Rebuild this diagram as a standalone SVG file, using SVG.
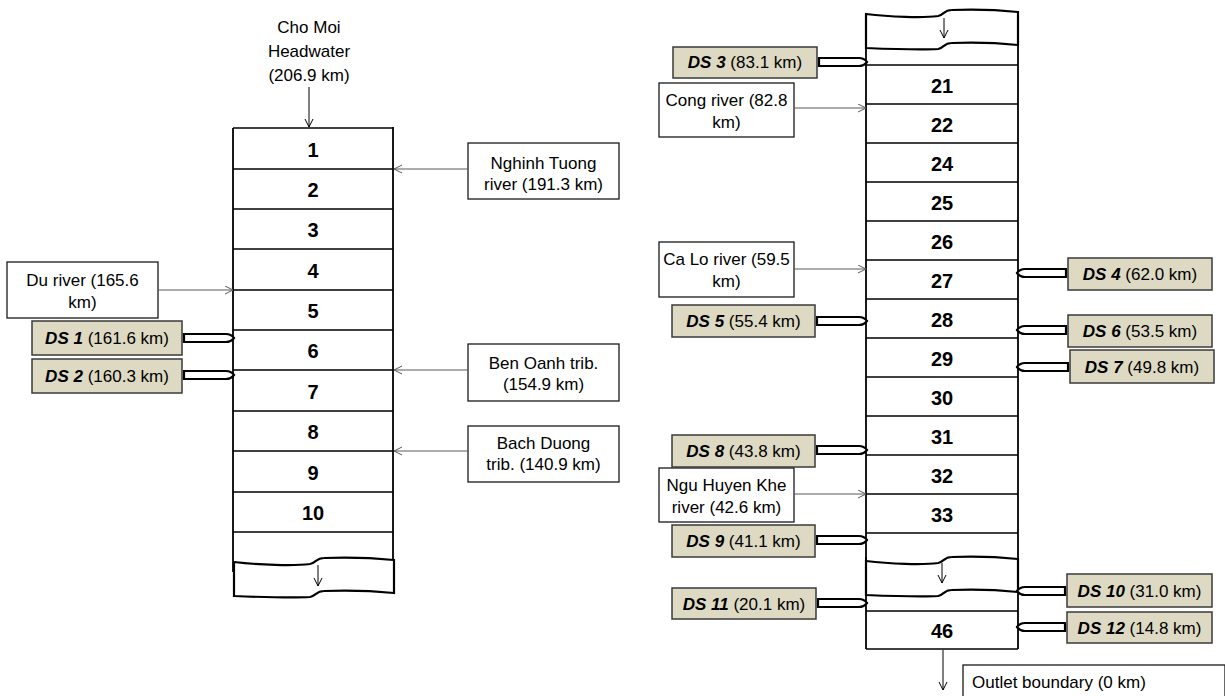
<svg xmlns="http://www.w3.org/2000/svg" width="1225" height="696" viewBox="0 0 1225 696">
<style>
text{font-family:"Liberation Sans",Arial,sans-serif;font-size:17px;fill:#000}
.c{text-anchor:middle}
.num{font-size:20px;font-weight:bold;text-anchor:middle}
.b{font-weight:bold;font-style:italic}
.box{fill:#fff;stroke:#1a1a1a;stroke-width:1.3}
.ds{fill:#ddd9c3;stroke:#3a3a3a;stroke-width:1.5}
.col{fill:none;stroke:#000;stroke-width:1.8}
.row{stroke:#000;stroke-width:1.5}
.trib{stroke:#5a5a5a;stroke-width:1.2;fill:none;marker-end:url(#arrG)}
.flow{stroke:#000;stroke-width:1;fill:none;marker-end:url(#arrK)}
.bar{fill:#fff;stroke:#000;stroke-width:2.2}
.tape{fill:#fff;stroke:#000;stroke-width:2.2}
</style>
<defs>
<marker id="arrG" markerUnits="userSpaceOnUse" markerWidth="10" markerHeight="10" refX="8" refY="4.5" orient="auto"><path d="M0,0.5 L8,4.5 L0,8.5" fill="none" stroke="#5a5a5a" stroke-width="1"/></marker>
<marker id="arrK" markerUnits="userSpaceOnUse" markerWidth="10" markerHeight="10" refX="8" refY="4.5" orient="auto"><path d="M0,0.5 L8,4.5 L0,8.5" fill="none" stroke="#000" stroke-width="1"/></marker>
<path id="tapeShape" vector-effect="non-scaling-stroke" d="M0,4 C25,7 60,8 76,6 C82,5 82,0 90,0 C115,-1 140,0 160,2 L160,35 C140,33 115,32 90,33 C82,33 82,38 76,39 C60,40 25,39 0,38 Z"/>
</defs>

<!-- left column -->
<g id="headwater">
<text class="c" x="309" y="33">Cho Moi</text>
<text class="c" x="309" y="57">Headwater</text>
<text class="c" x="309" y="81">(206.9 km)</text>
</g>
<g id="reach-left">
<use href="#tapeShape" class="tape" transform="translate(234,558)"/>
<line class="col" x1="233" y1="128" x2="233" y2="572"/>
<line class="col" x1="393" y1="127" x2="393" y2="560"/>
<line class="row" x1="233" y1="128" x2="393" y2="128"/>
<line class="row" x1="233" y1="169" x2="393" y2="169"/>
<line class="row" x1="233" y1="209" x2="393" y2="209"/>
<line class="row" x1="233" y1="249" x2="393" y2="249"/>
<line class="row" x1="233" y1="290" x2="393" y2="290"/>
<line class="row" x1="233" y1="330" x2="393" y2="330"/>
<line class="row" x1="233" y1="370" x2="393" y2="370"/>
<line class="row" x1="233" y1="411" x2="393" y2="411"/>
<line class="row" x1="233" y1="451" x2="393" y2="451"/>
<line class="row" x1="233" y1="492" x2="393" y2="492"/>
<line class="row" x1="233" y1="532" x2="393" y2="532"/>
<text class="num" x="313" y="157">1</text>
<text class="num" x="313" y="197">2</text>
<text class="num" x="313" y="237">3</text>
<text class="num" x="313" y="278">4</text>
<text class="num" x="313" y="318">5</text>
<text class="num" x="313" y="358">6</text>
<text class="num" x="313" y="399">7</text>
<text class="num" x="313" y="439">8</text>
<text class="num" x="313" y="480">9</text>
<text class="num" x="313" y="520">10</text>
</g>

<g id="nghinh-tuong">
<rect class="box" x="468" y="143" width="151" height="56"/>
<text class="c" x="543.5" y="169">Nghinh Tuong</text>
<text class="c" x="543.5" y="190">river (191.3 km)</text>
</g>
<g id="du-river">
<rect class="box" x="7" y="262" width="151" height="56"/>
<text class="c" x="82.5" y="286">Du river (165.6</text>
<text class="c" x="82.5" y="308">km)</text>
</g>
<g id="ben-oanh">
<rect class="box" x="468" y="344" width="151" height="57"/>
<text class="c" x="543.5" y="369">Ben Oanh trib.</text>
<text class="c" x="543.5" y="390">(154.9 km)</text>
</g>
<g id="bach-duong">
<rect class="box" x="468" y="426" width="151" height="56"/>
<text class="c" x="543.5" y="449">Bach Duong</text>
<text class="c" x="543.5" y="470">trib. (140.9 km)</text>
</g>
<g id="ds1">
<rect class="ds" x="32" y="321" width="150" height="34"/>
<text class="c" x="107" y="344"><tspan class="b">DS 1</tspan> (161.6 km)</text>
</g>
<g id="ds2">
<rect class="ds" x="32" y="359" width="150" height="34"/>
<text class="c" x="107" y="382"><tspan class="b">DS 2</tspan> (160.3 km)</text>
</g>

<!-- right column -->
<g id="reach-right">
<line class="col" x1="866" y1="48" x2="866" y2="649"/>
<line class="col" x1="1018" y1="44" x2="1018" y2="649"/>
<use href="#tapeShape" class="tape" transform="translate(866,10) scale(0.95,1)"/>
<use href="#tapeShape" class="tape" transform="translate(866,557) scale(0.95,1)"/>
<line class="col" x1="866" y1="557" x2="866" y2="596"/>
<line class="row" x1="866" y1="65" x2="1018" y2="65"/>
<line class="row" x1="866" y1="104" x2="1018" y2="104"/>
<line class="row" x1="866" y1="143" x2="1018" y2="143"/>
<line class="row" x1="866" y1="182" x2="1018" y2="182"/>
<line class="row" x1="866" y1="221" x2="1018" y2="221"/>
<line class="row" x1="866" y1="260" x2="1018" y2="260"/>
<line class="row" x1="866" y1="299" x2="1018" y2="299"/>
<line class="row" x1="866" y1="338" x2="1018" y2="338"/>
<line class="row" x1="866" y1="377" x2="1018" y2="377"/>
<line class="row" x1="866" y1="416" x2="1018" y2="416"/>
<line class="row" x1="866" y1="455" x2="1018" y2="455"/>
<line class="row" x1="866" y1="494" x2="1018" y2="494"/>
<line class="row" x1="866" y1="533" x2="1018" y2="533"/>
<line class="row" x1="866" y1="611" x2="1018" y2="611"/>
<line class="row" x1="866" y1="649" x2="1018" y2="649"/>
<text class="num" x="942" y="93">21</text>
<text class="num" x="942" y="132">22</text>
<text class="num" x="942" y="171">24</text>
<text class="num" x="942" y="210">25</text>
<text class="num" x="942" y="249">26</text>
<text class="num" x="942" y="288">27</text>
<text class="num" x="942" y="327">28</text>
<text class="num" x="942" y="366">29</text>
<text class="num" x="942" y="405">30</text>
<text class="num" x="942" y="444">31</text>
<text class="num" x="942" y="483">32</text>
<text class="num" x="942" y="522">33</text>
<text class="num" x="942" y="638">46</text>
</g>

<g id="cong-river">
<rect class="box" x="659" y="83" width="135" height="54"/>
<text class="c" x="726.5" y="106">Cong river (82.8</text>
<text class="c" x="726.5" y="128">km)</text>
</g>
<g id="ca-lo-river">
<rect class="box" x="659" y="242" width="135" height="55"/>
<text class="c" x="726.5" y="265">Ca Lo river (59.5</text>
<text class="c" x="726.5" y="287">km)</text>
</g>
<g id="ngu-huyen-khe">
<rect class="box" x="659" y="468" width="135" height="54"/>
<text class="c" x="726.5" y="491">Ngu Huyen Khe</text>
<text class="c" x="726.5" y="513">river (42.6 km)</text>
</g>
<g id="outlet">
<rect class="box" x="963" y="665" width="262" height="40"/>
<text x="972" y="688">Outlet boundary (0 km)</text>
</g>

<g id="ds3">
<rect class="ds" x="673" y="47" width="144" height="31"/>
<text class="c" x="745" y="68"><tspan class="b">DS 3</tspan> (83.1 km)</text>
</g>
<g id="ds5">
<rect class="ds" x="672" y="305" width="143" height="32"/>
<text class="c" x="743.5" y="327"><tspan class="b">DS 5</tspan> (55.4 km)</text>
</g>
<g id="ds8">
<rect class="ds" x="672" y="435" width="143" height="32"/>
<text class="c" x="743.5" y="457"><tspan class="b">DS 8</tspan> (43.8 km)</text>
</g>
<g id="ds9">
<rect class="ds" x="672" y="525" width="143" height="32"/>
<text class="c" x="743.5" y="547"><tspan class="b">DS 9</tspan> (41.1 km)</text>
</g>
<g id="ds11">
<rect class="ds" x="672" y="588" width="144" height="31"/>
<text class="c" x="744" y="610"><tspan class="b">DS 11</tspan> (20.1 km)</text>
</g>
<g id="ds4">
<rect class="ds" x="1068" y="258" width="144" height="32"/>
<text class="c" x="1140" y="280"><tspan class="b">DS 4</tspan> (62.0 km)</text>
</g>
<g id="ds6">
<rect class="ds" x="1068" y="315" width="144" height="32"/>
<text class="c" x="1140" y="337"><tspan class="b">DS 6</tspan> (53.5 km)</text>
</g>
<g id="ds7">
<rect class="ds" x="1070" y="350" width="144" height="33"/>
<text class="c" x="1142" y="373"><tspan class="b">DS 7</tspan> (49.8 km)</text>
</g>
<g id="ds10">
<rect class="ds" x="1067" y="574" width="145" height="33"/>
<text class="c" x="1139.5" y="597"><tspan class="b">DS 10</tspan> (31.0 km)</text>
</g>
<g id="ds12">
<rect class="ds" x="1067" y="612" width="145" height="31"/>
<text class="c" x="1139.5" y="634"><tspan class="b">DS 12</tspan> (14.8 km)</text>
</g>

<g id="connectors">
<line class="flow" x1="309" y1="87" x2="309" y2="127"/>
<line class="flow" x1="318" y1="565" x2="318" y2="586"/>
<line class="flow" x1="944" y1="18" x2="944" y2="38"/>
<line class="flow" x1="942" y1="563" x2="942" y2="583"/>
<line class="flow" x1="943" y1="650" x2="943" y2="690"/>
<line class="trib" x1="468" y1="169" x2="394" y2="169"/>
<line class="trib" x1="158" y1="290" x2="233" y2="290"/>
<line class="trib" x1="468" y1="370" x2="394" y2="370"/>
<line class="trib" x1="468" y1="451" x2="394" y2="451"/>
<line class="trib" x1="794" y1="108" x2="866" y2="108"/>
<line class="trib" x1="794" y1="269" x2="866" y2="269"/>
<line class="trib" x1="794" y1="494" x2="866" y2="494"/>
<path class="bar" d="M184,334 H226 Q231,334 234,338 Q231,342 226,342 H184 Z"/>
<path class="bar" d="M184,371 H226 Q231,371 234,375 Q231,379 226,379 H184 Z"/>
<path class="bar" d="M819,58 H859 Q864,58 867,62 Q864,66 859,66 H819 Z"/>
<path class="bar" d="M817,317 H859 Q864,317 867,321 Q864,325 859,325 H817 Z"/>
<path class="bar" d="M817,446 H859 Q864,446 867,450 Q864,454 859,454 H817 Z"/>
<path class="bar" d="M817,536 H859 Q864,536 867,540 Q864,544 859,544 H817 Z"/>
<path class="bar" d="M818,599 H859 Q864,599 867,603 Q864,607 859,607 H818 Z"/>
<path class="bar" d="M1066,269 H1025 Q1020,269 1017,273 Q1020,277 1025,277 H1066 Z"/>
<path class="bar" d="M1066,326 H1025 Q1020,326 1017,330 Q1020,334 1025,334 H1066 Z"/>
<path class="bar" d="M1068,363 H1025 Q1020,363 1017,367 Q1020,371 1025,371 H1068 Z"/>
<path class="bar" d="M1065,587 H1025 Q1020,587 1017,591 Q1020,595 1025,595 H1065 Z"/>
<path class="bar" d="M1065,623 H1025 Q1020,623 1017,627 Q1020,631 1025,631 H1065 Z"/>
</g>
</svg>
